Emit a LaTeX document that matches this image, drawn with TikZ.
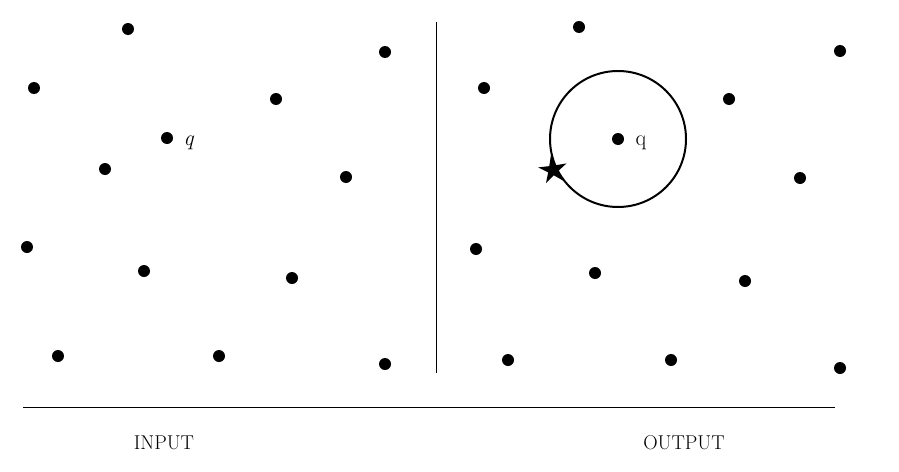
\documentclass[tikz,border=0pt]{standalone}
\usepackage{fontspec}
\usetikzlibrary{shapes.geometric}
\begin{document}
\begin{tikzpicture}[x=1pt,y=-1pt,
  pt/.style={circle,fill=black,inner sep=0pt,minimum size=12pt},
  lbl/.style={font=\fontsize{20}{24}\selectfont},
  qlbl/.style={font=\fontsize{22}{26}\selectfont,inner sep=0pt},
  thinline/.style={line width=0.8pt}]
\useasboundingbox (0,0) rectangle (899,471);
% left points
\foreach \x/\y [count=\i] in {128/29,385/52,34/88,276/99,105/169,346/177,27/247,144/271,292/278,58/356,219/356,385/364}
  \node[pt] (L\i) at (\x,\y) {};
\node[pt] (Lq) at (167,138) {};
\node[qlbl] (Lqt) at (189,143) {\textit{q}};
% right points
\foreach \x/\y [count=\i] in {579/27,840/51,484/88,729/99,800/178,476/249,595/273,745/281,508/360,671/360,840/368}
  \node[pt] (R\i) at (\x,\y) {};
\node[pt] (Rq) at (618,139) {};
\node[qlbl] (Rqt) at (641,143) {q};
\draw[line width=2pt] (Rq) circle (68);
\node[star,star points=5,star point ratio=2.8,fill=black,inner sep=0pt,minimum size=30pt,rotate=8] (S) at (553,170) {};
% separators
\coordinate (vt) at (436,22); \coordinate (vb) at (436,373);
\draw[thinline] (vt) -- (vb);
\coordinate (hl) at (23,407); \coordinate (hr) at (835,407);
\draw[thinline] (hl) -- (hr);
\node[lbl] (in) at (164,443) {INPUT};
\node[lbl] (out) at (684,443) {OUTPUT};
\end{tikzpicture}
\end{document}
